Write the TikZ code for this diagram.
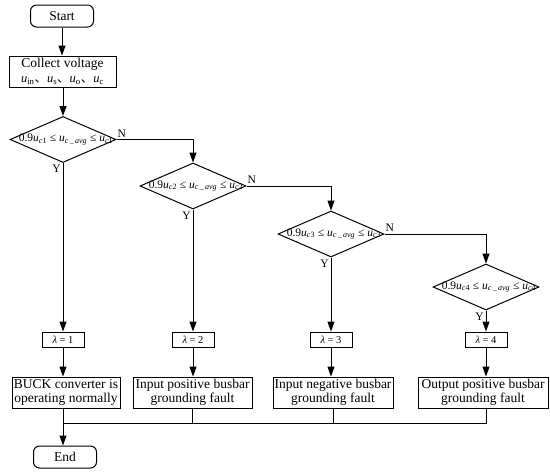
\documentclass[tikz,border=0pt]{standalone}
\usepackage{fontspec}
\setmainfont{Liberation Serif}
\newfontfamily\cjk{Noto Sans CJK SC}
\usetikzlibrary{shapes.geometric,arrows.meta}
\newcommand{\uv}[1]{\textit{u}\textsubscript{#1}}
\newcommand{\ideocomma}{{\cjk 、}}
\newcommand{\cond}[1]{0.9\uv{\textit{c}#1} ≤ \uv{\textit{c}\,\_\,\textit{avg}} ≤ \uv{\textit{c}#1}}
\begin{document}
\begin{tikzpicture}[x=1pt,y=-1pt,
  base/.style={draw,line width=1pt,font=\fontsize{13.5}{14.5}\selectfont,inner sep=0pt},
  term/.style={base,rounded corners=6pt,minimum width=63pt,minimum height=22pt},
  proc/.style={base,align=center,minimum height=31pt},
  dia/.style={draw,line width=1pt,diamond,inner sep=0pt,minimum width=106pt,minimum height=46pt},
  dtext/.style={font=\fontsize{11.5}{12}\selectfont,inner sep=0pt},
  lam/.style={base,font=\fontsize{10.5}{12}\selectfont,minimum width=42pt,minimum height=15pt},
  yn/.style={font=\fontsize{11.5}{12}\selectfont,inner sep=1pt},
  arr/.style={line width=1pt,-{Triangle[length=10pt,width=7pt]}},
  ln/.style={line width=1pt}]
\useasboundingbox (0,0) rectangle (550,474);
% terminals and process
\node[term] (start) at (62,16) {Start};
\node[proc,minimum width=107pt] (coll) at (62.5,71.5) {Collect voltage\\[1pt]{\fontsize{12.5}{13}\selectfont\uv{in}\ideocomma\uv{s}\ideocomma\uv{o}\ideocomma\uv{c}}};
% decisions
\node[dia] (d1) at (63,139.5) {};
\node[dia] (d2) at (193,186) {};
\node[dia] (d3) at (331,234) {};
\node[dia] (d4) at (486,287) {};
\node[dtext] (t1) at ([xshift=3pt]d1.center) {\cond{1}};
\node[dtext] (t2) at ([xshift=3pt]d2.center) {\cond{2}};
\node[dtext] (t3) at ([xshift=3pt]d3.center) {\cond{3}};
\node[dtext] (t4) at ([xshift=3pt]d4.center) {\cond{4}};
% lambda boxes
\node[lam] (l1) at (63,339.5) {\textit{λ} = 1};
\node[lam] (l2) at (193,339.5) {\textit{λ} = 2};
\node[lam] (l3) at (331,339.5) {\textit{λ} = 3};
\node[lam] (l4) at (486,339.5) {\textit{λ} = 4};
% result boxes
\node[proc,minimum width=108pt] (b1) at (66,392.5) {BUCK converter is\\operating normally};
\node[proc,minimum width=119pt] (b2) at (192.5,392.5) {Input positive busbar\\grounding fault};
\node[proc,minimum width=120pt] (b3) at (333,392.5) {Input negative busbar\\grounding fault};
\node[proc,minimum width=130pt] (b4) at (483,392.5) {Output positive busbar\\grounding fault};
\node[term] (end) at (65,457) {End};
\coordinate (m) at (63,423);
% connectors
\draw[arr] (start.south) -- (start.south |- coll.north);
\draw[arr] (coll.south -| d1) -- (d1.north);
\draw[arr] (d1.east) -| (d2.north);
\draw[arr] (d2.east) -| (d3.north);
\draw[arr] (d3.east) -| (d4.north);
\draw[arr] (d1.south) -- (l1.north);
\draw[arr] (d2.south) -- (l2.north);
\draw[arr] (d3.south) -- (l3.north);
\draw[arr] (d4.south) -- (l4.north);
\draw[arr] (l1.south) -- (l1.south |- b1.north);
\draw[arr] (l2.south) -- (l2.south |- b2.north);
\draw[arr] (l3.south) -- (l3.south |- b3.north);
\draw[arr] (l4.south) -- (l4.south |- b4.north);
\draw[arr] (l1 |- b1.south) -- (l1 |- end.north);
\draw[ln] (b2.south) |- (m);
\draw[ln] (b3.south) |- (m);
\draw[ln] (l4 |- b4.south) |- (m);
% labels
\foreach \d in {d1,d2,d3,d4}{
  \node[yn,anchor=north east] at ([xshift=-1pt,yshift=-1pt]\d.south) {Y};
}
\foreach \d in {d1,d2,d3}{
  \node[yn,anchor=south west] at ([yshift=1pt]\d.east) {N};
}
\end{tikzpicture}
\end{document}
